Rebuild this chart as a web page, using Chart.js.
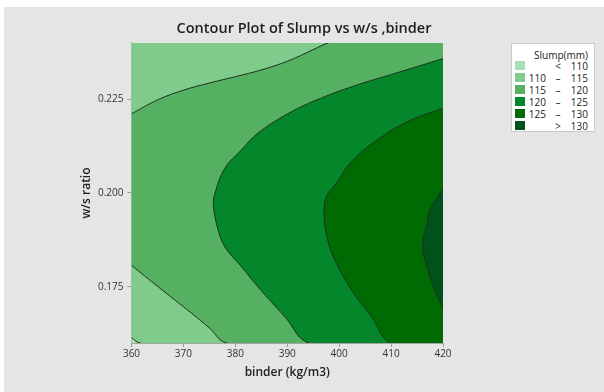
<!DOCTYPE html>
<html>
<head>
<meta charset="utf-8">
<script src="https://cdn.jsdelivr.net/npm/chart.js@4.4.1/dist/chart.umd.min.js"></script>
<style>
  html, body { margin: 0; padding: 0; background: #fff; }
  body { width: 604px; height: 392px; position: relative; overflow: hidden; font-family: 'Open Sans', sans-serif; }
  #panel { position: absolute; left: 4px; top: 7px; right: 0; bottom: 0; background: #e5e5e5; }
  #c { position: absolute; left: 0; top: 0; }
  #legend { position: absolute; left: 511px; top: 43px; width: 84px; height: 89px; box-sizing: border-box;
            background: #fff; border: 1px solid #c9c9c9; color: #222; font-size: 10px; }
  #legend .ttl { position: absolute; right: 6px; top: 5px; line-height: 12px; white-space: nowrap; }
  #legend .row { position: absolute; left: 0; width: 100%; height: 12px; line-height: 12px; }
  #legend .sw { position: absolute; left: 3px; top: 1px; width: 10px; height: 9px; }
  #legend .lo { position: absolute; right: 48px; }
  #legend .sep { position: absolute; left: 42px; width: 8px; text-align: center; }
  #legend .hi { position: absolute; right: 6px; }
</style>
</head>
<body>
<div id="panel"></div>
<canvas id="c" width="604" height="392"></canvas>
<div id="legend"></div>
<script>
// Axis ranges and ticks
const binderLimits = [360, 420];
const wsLimits = [0.16, 0.24];
const binderTicks = [360, 370, 380, 390, 400, 410, 420];
const wsTicks = [0.175, 0.200, 0.225];

// Slump contour levels (mm) and the colour of each band, lowest first
const slumpBreaks = [110, 115, 120, 125, 130];
const bandColors = ['#a8dfb4', '#7fcb8b', '#56b062', '#04862a', '#006b02', '#00521d'];

// Contour lines as [binder, w/s] pairs
const contour110 = [[360, 0.1614], [361.6, 0.1600]];
const contour115Upper = [[360, 0.2211], [365, 0.2248], [370, 0.2274], [375, 0.2293], [380, 0.2310],
                         [385, 0.2328], [390, 0.2351], [395, 0.2382], [397.9, 0.2400]];
const contour115Lower = [[378.3, 0.1600], [375, 0.1640], [371.6, 0.1679], [368.4, 0.1714],
                         [365.2, 0.1749], [362.5, 0.1779], [360, 0.1807]];
const contour120 = [[420, 0.2358], [410.1, 0.2316], [403.7, 0.2289], [397.3, 0.2257], [390.9, 0.2217],
                    [384.4, 0.2160], [381.2, 0.2115], [378.0, 0.2066], [376.0, 0.1995], [375.8, 0.1963],
                    [376.7, 0.1901], [378.0, 0.1856], [381.2, 0.1803], [384.4, 0.1749], [389.6, 0.1669],
                    [394.1, 0.1600]];
const contour125 = [[420, 0.2226], [413.3, 0.2191], [406.9, 0.2137], [402.4, 0.2084], [399.2, 0.2021],
                    [397.5, 0.1990], [397.1, 0.1937], [397.6, 0.1888], [398.6, 0.1839], [402.4, 0.1741],
                    [406.3, 0.1669], [409.8, 0.1600]];
const contour130 = [[420, 0.2013], [417.5, 0.1955], [416.9, 0.1919], [416.1, 0.1861], [416.9, 0.1803],
                    [418.2, 0.1749], [420, 0.1692]];

// Each band is closed through points lying beyond the axes; the plot clips them away.
const [X0, X1] = binderLimits, [Y0, Y1] = wsLimits;
const out = { l: X0 - (X1 - X0) / 3, r: X1 + (X1 - X0) / 3, b: Y0 - (Y1 - Y0) / 4, t: Y1 + (Y1 - Y0) / 4 };
const toXY = arr => arr.map(([x, y]) => ({ x, y }));
const lineColor = '#1d301f';
const smooth = 0.4;

function band(points, level, tension) {
  return {
    data: toXY(points),
    fill: 'shape',
    backgroundColor: bandColors[level],
    borderColor: lineColor,
    borderWidth: level === 0 ? 0 : 1,
    tension: tension,
    pointRadius: 0,
    order: 10 - level,
    clip: 0
  };
}

const datasets = [
  band([[out.l, out.b], [out.r, out.b], [out.r, out.t], [out.l, out.t]], 0, 0),
  band([...contour110, [out.r, out.b], [out.r, out.t], [out.l, out.t]], 1, smooth),
  band([...contour115Upper, [out.r, out.t], [out.r, out.b], ...contour115Lower], 2, smooth),
  band([...contour120, [out.r, out.b]], 3, smooth),
  band([...contour125, [out.r, out.b]], 4, smooth),
  band(contour130, 5, smooth)
];

Chart.defaults.font.family = "'Open Sans', sans-serif";

const axisGrid = { display: true, drawOnChartArea: false, drawTicks: true, tickLength: 4, color: '#9c9c9c' };
const axisBorder = { display: true, color: '#a4a4a4' };

new Chart(document.getElementById('c'), {
  type: 'line',
  data: { datasets },
  options: {
    responsive: false,
    devicePixelRatio: 1,
    animation: false,
    events: [],
    elements: { line: { capBezierPoints: false, borderJoinStyle: 'round' } },
    layout: { padding: { left: 4, top: 7, right: 0, bottom: 2 } },
    plugins: {
      legend: { display: false },
      tooltip: { enabled: false },
      title: {
        display: true,
        text: 'Contour Plot of Slump vs w/s ,binder',
        color: '#1e1e1e',
        font: { size: 14.5, weight: '600' },
        padding: { top: 13.5, bottom: 5 }
      }
    },
    scales: {
      x: {
        type: 'linear', min: X0, max: X1,
        afterBuildTicks: s => { s.ticks = binderTicks.map(v => ({ value: v })); },
        ticks: { color: '#333', font: { size: 10 }, padding: 1, maxRotation: 0, callback: v => String(v) },
        grid: axisGrid, border: axisBorder,
        title: { display: true, text: 'binder (kg/m3)', color: '#222', font: { size: 12, weight: '600' },
                 padding: { top: 0, bottom: 10 } },
        afterFit: s => { s.height = 47; }
      },
      y: {
        type: 'linear', min: Y0, max: Y1,
        afterBuildTicks: s => { s.ticks = wsTicks.map(v => ({ value: v })); },
        ticks: { color: '#333', font: { size: 10 }, padding: 4, callback: v => Number(v).toFixed(3) },
        grid: axisGrid, border: axisBorder,
        title: { display: true, text: 'w/s ratio', color: '#222', font: { size: 12, weight: '600' },
                 padding: { top: 75, bottom: 0 } },
        afterFit: s => { s.width = 127.5; }
      },
      legendSpace: {
        position: 'right', display: true,
        grid: { display: false, drawTicks: false }, ticks: { display: false }, border: { display: false },
        afterFit: s => { s.width = 161; }
      }
    }
  }
});

// Legend: one row per slump band
const legend = document.getElementById('legend');
legend.innerHTML = '<div class="ttl">Slump(mm)</div>';
bandColors.forEach((color, i) => {
  let lo = '', sep = '', hi = '';
  if (i === 0) { sep = '<'; hi = slumpBreaks[0]; }
  else if (i === bandColors.length - 1) { sep = '>'; hi = slumpBreaks[slumpBreaks.length - 1]; }
  else { lo = slumpBreaks[i - 1]; sep = '\u2013'; hi = slumpBreaks[i]; }
  const row = document.createElement('div');
  row.className = 'row';
  row.style.top = (16 + i * 12) + 'px';
  row.innerHTML = '<span class="sw" style="background:' + color + '"></span>' +
    '<span class="lo">' + lo + '</span><span class="sep">' + sep + '</span><span class="hi">' + hi + '</span>';
  legend.appendChild(row);
});
</script>
</body>
</html>
